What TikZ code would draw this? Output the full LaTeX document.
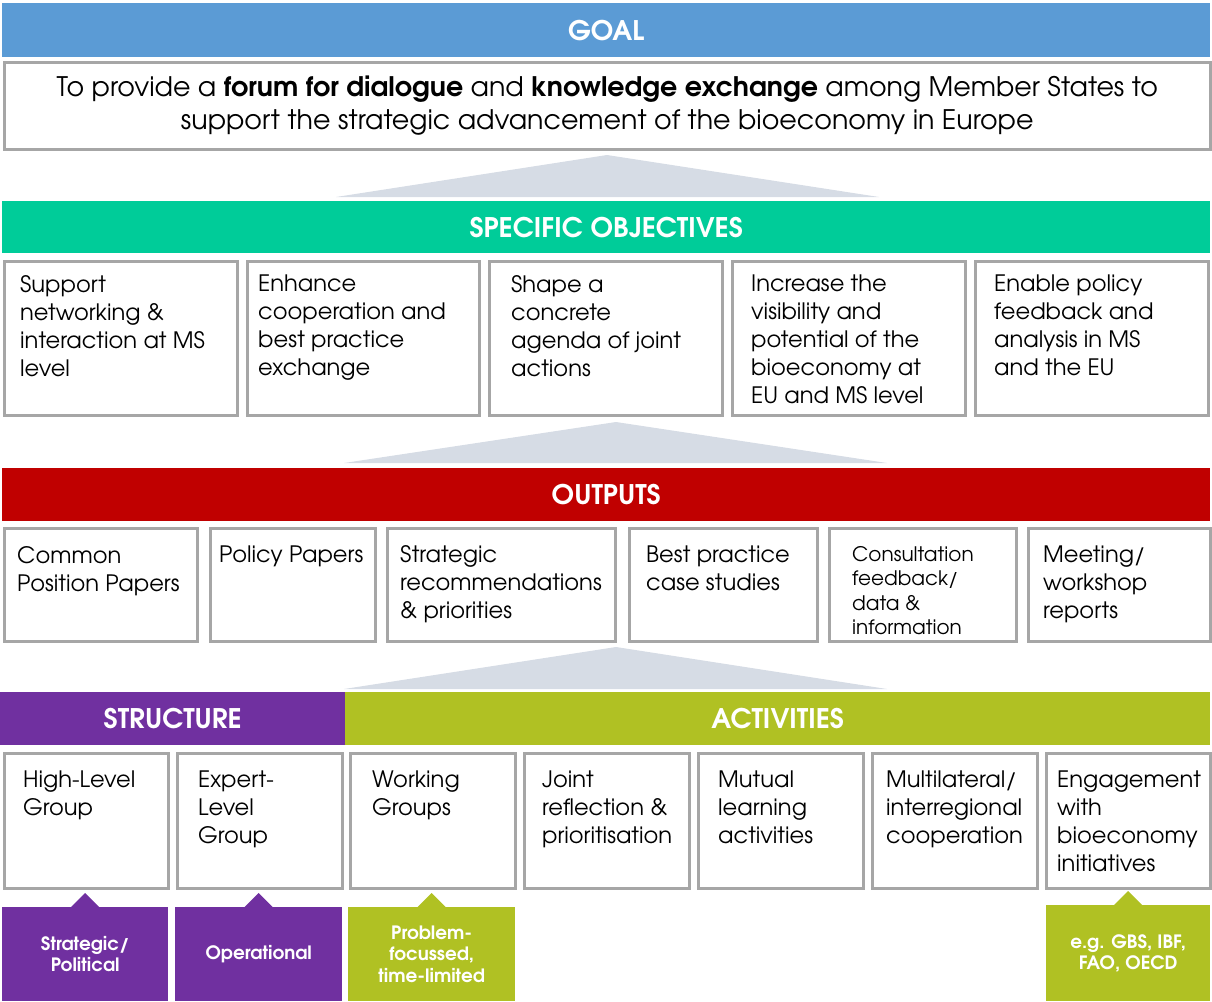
\documentclass[tikz,border=0pt]{standalone}
\usepackage{fontspec}
\setmainfont{texgyreadventor}[Extension=.otf, UprightFont=*-regular, BoldFont=*-bold]
\usetikzlibrary{positioning}

\definecolor{goalblue}{RGB}{91,155,213}
\definecolor{objgreen}{RGB}{0,204,153}
\definecolor{outred}{RGB}{192,0,0}
\definecolor{structpurple}{RGB}{112,48,160}
\definecolor{actgreen}{RGB}{176,193,35}
\definecolor{boxgray}{RGB}{166,166,166}
\definecolor{wedgegray}{RGB}{214,220,229}

\begin{document}
\begin{tikzpicture}[
  x=1pt, y=-1pt,
  bar/.style={anchor=north west, inner sep=0pt, text=white, font=\fontsize{27}{30}\selectfont\bfseries},
  box/.style={draw=boxgray, line width=2.5pt, fill=white, anchor=north west, inner sep=0pt},
  txt/.style={anchor=north west, inner sep=0pt, align=left, font=\fontsize{22.6}{28}\selectfont},
  tag/.style={anchor=north west, inner sep=0pt, text=white, align=center, font=\fontsize{18.4}{21.5}\selectfont\bfseries},
  wedge/.style={fill=wedgegray}
]
\useasboundingbox (0,0) rectangle (1212,1001);

% goal
\node[bar, fill=goalblue, minimum width=1208pt, minimum height=54pt] (goal) at (2,3) {GOAL};
\node[box, minimum width=1206pt, minimum height=87pt] (goalbox) at (3,61) {};
\node[align=center, font=\fontsize{26.9}{33}\selectfont] (goaltext) at (goalbox.center)
  {To provide a \textbf{forum for dialogue} and \textbf{knowledge exchange} among Member States to\\
   support the strategic advancement of the bioeconomy in Europe};

\fill[wedge] (336,197) -- (607,155) -- (879,197) -- cycle;

% specific objectives
\node[bar, fill=objgreen, minimum width=1208pt, minimum height=52pt] (obj) at (2,201) {SPECIFIC OBJECTIVES};
\node[box, minimum width=233pt, minimum height=154pt] (o1) at (3,260) {};
\node[box, minimum width=232pt, minimum height=154pt] (o2) at (246,260) {};
\node[box, minimum width=233pt, minimum height=154pt] (o3) at (488,260) {};
\node[box, minimum width=233pt, minimum height=154pt] (o4) at (731,260) {};
\node[box, minimum width=233pt, minimum height=154pt] (o5) at (974,260) {};
\node[txt, xshift=17pt, yshift=-15pt] at (o1.north west) {Support\\networking \&\\interaction at MS\\level};
\node[txt, xshift=12pt, yshift=-15pt] at (o2.north west) {Enhance\\cooperation and\\best practice\\exchange};
\node[txt, xshift=23pt, yshift=-15pt] at (o3.north west) {Shape a\\concrete\\agenda of joint\\actions};
\node[txt, xshift=20pt, yshift=-15pt] at (o4.north west) {Increase the\\visibility and\\potential of the\\bioeconomy at\\EU and MS level};
\node[txt, xshift=20pt, yshift=-15pt] at (o5.north west) {Enable policy\\feedback and\\analysis in MS\\and the EU};

\fill[wedge] (344,463) -- (616,422) -- (887,463) -- cycle;

% outputs
\node[bar, fill=outred, minimum width=1208pt, minimum height=53pt] (out) at (2,468) {OUTPUTS};
\node[box, minimum width=193pt, minimum height=113pt] (p1) at (3,527) {};
\node[box, minimum width=165pt, minimum height=113pt] (p2) at (209,527) {};
\node[box, minimum width=228pt, minimum height=113pt] (p3) at (386,527) {};
\node[box, minimum width=188pt, minimum height=113pt] (p4) at (628,527) {};
\node[box, minimum width=187pt, minimum height=113pt] (p5) at (828,527) {};
\node[box, minimum width=182pt, minimum height=113pt] (p6) at (1027,527) {};
\node[txt, xshift=14pt, yshift=-19pt] at (p1.north west) {Common\\Position Papers};
\node[txt, xshift=10pt, yshift=-19pt] at (p2.north west) {Policy Papers};
\node[txt, xshift=14pt, yshift=-18pt] at (p3.north west) {Strategic\\recommendations\\\& priorities};
\node[txt, xshift=18pt, yshift=-19pt] at (p4.north west) {Best practice\\case studies};
\node[txt, xshift=24pt, yshift=-19pt, font=\fontsize{20}{24.5}\selectfont] at (p5.north west) {Consultation\\feedback/\\data \&\\information};
\node[txt, xshift=16pt, yshift=-19pt] at (p6.north west) {Meeting/\\workshop\\reports};

\fill[wedge] (344,689) -- (616,647) -- (887,689) -- cycle;

% structure and activities
\node[bar, fill=structpurple, minimum width=345pt, minimum height=53pt] (struct) at (0,692) {STRUCTURE};
\node[bar, fill=actgreen, minimum width=865pt, minimum height=53pt] (act) at (345,692) {ACTIVITIES};
\node[box, minimum width=164pt, minimum height=135pt] (hlg) at (3,752) {};
\node[box, minimum width=165pt, minimum height=135pt] (elg) at (176,752) {};
\node[box, minimum width=165pt, minimum height=135pt] (wg) at (349,752) {};
\node[box, minimum width=165pt, minimum height=135pt] (jr) at (523,752) {};
\node[box, minimum width=165pt, minimum height=135pt] (ml) at (697,752) {};
\node[box, minimum width=165pt, minimum height=135pt] (mc) at (871,752) {};
\node[box, minimum width=164pt, minimum height=135pt] (eng) at (1045,752) {};
\node[txt, xshift=20pt, yshift=-19pt] at (hlg.north west) {High-Level\\Group};
\node[txt, xshift=22pt, yshift=-19pt] at (elg.north west) {Expert-\\Level\\Group};
\node[txt, xshift=23pt, yshift=-19pt] at (wg.north west) {Working\\Groups};
\node[txt, xshift=19pt, yshift=-19pt] at (jr.north west) {Joint\\reflection \&\\prioritisation};
\node[txt, xshift=21pt, yshift=-19pt] at (ml.north west) {Mutual\\learning\\activities};
\node[txt, xshift=15pt, yshift=-19pt] at (mc.north west) {Multilateral/\\interregional\\cooperation};
\node[txt, xshift=12pt, yshift=-19pt] at (eng.north west) {Engagement\\with\\bioeconomy\\initiatives};

% tags under the boxes
\node[tag, fill=structpurple, minimum width=166pt, minimum height=94pt] (hlgtag) at (2,907) {Strategic/\\Political};
\node[tag, fill=structpurple, minimum width=167pt, minimum height=94pt] (elgtag) at (175,907) {Operational};
\node[tag, fill=actgreen, minimum width=167pt, minimum height=94pt] (wgtag) at (348,907) {Problem-\\focussed,\\time-limited};
\node[tag, fill=actgreen, minimum width=164pt, minimum height=96pt] (engtag) at (1046,905) {e.g. GBS, IBF,\\FAO, OECD};
\fill[structpurple] ([xshift=-14pt]hlgtag.north) -- ([yshift=14pt]hlgtag.north) -- ([xshift=14pt]hlgtag.north) -- cycle;
\fill[structpurple] ([xshift=-14pt]elgtag.north) -- ([yshift=14pt]elgtag.north) -- ([xshift=14pt]elgtag.north) -- cycle;
\fill[actgreen] ([xshift=-14pt]wgtag.north) -- ([yshift=14pt]wgtag.north) -- ([xshift=14pt]wgtag.north) -- cycle;
\fill[actgreen] ([xshift=-14pt]engtag.north) -- ([yshift=14pt]engtag.north) -- ([xshift=14pt]engtag.north) -- cycle;

\end{tikzpicture}
\end{document}
